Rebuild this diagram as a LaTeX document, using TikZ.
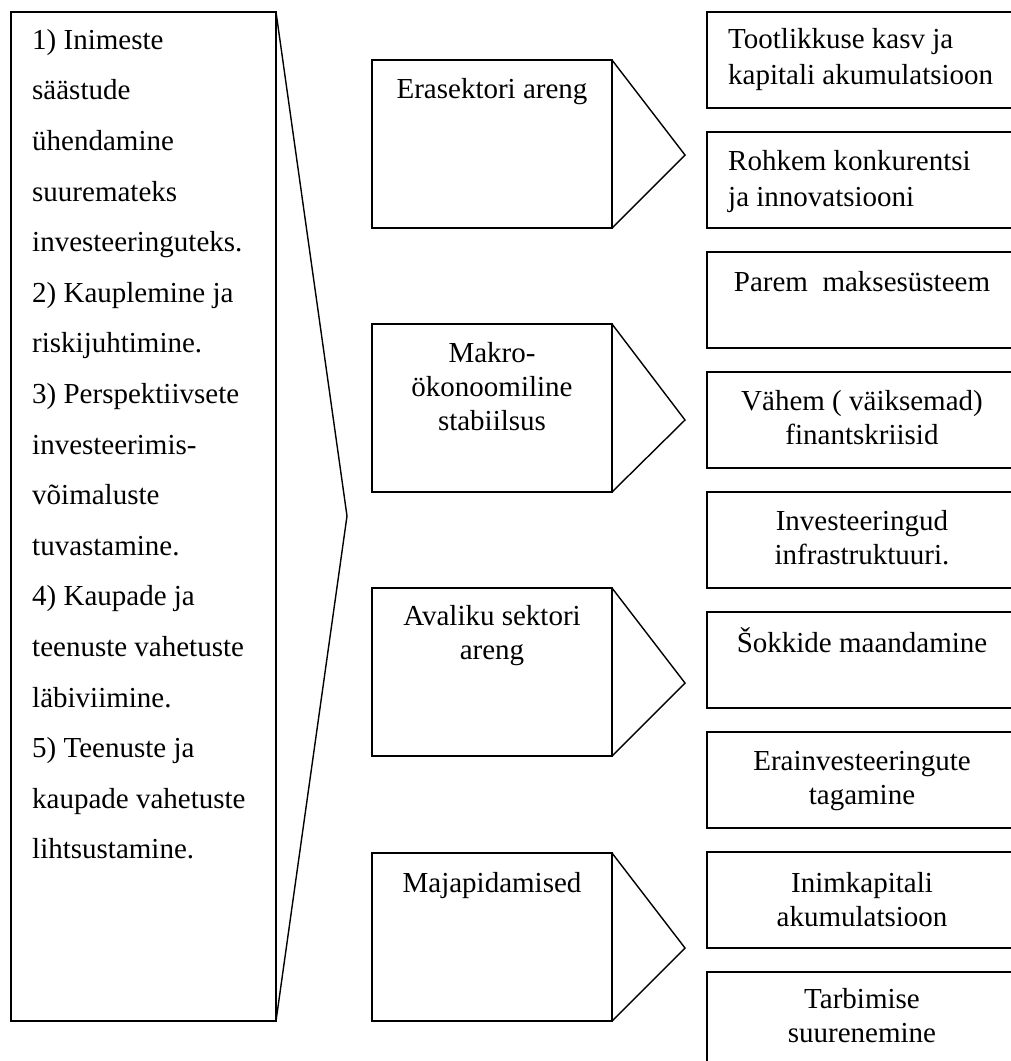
\documentclass[tikz,border=0pt]{standalone}
\usepackage{fontspec}
\setmainfont{Liberation Serif}
\begin{document}
\begin{tikzpicture}[x=1pt,y=-1pt,
  frame/.style={draw, line width=1.4pt, inner sep=0pt, anchor=north west, outer sep=0pt},
  tip/.style={line width=1.4pt, line join=miter},
  lefttxt/.style={inner sep=0pt, anchor=north west, align=left, font=\fontsize{29}{50.6}\selectfont},
  ctxt/.style={inner sep=0pt, anchor=north, align=center, font=\fontsize{29}{34}\selectfont},
  ltxt/.style={inner sep=0pt, anchor=north west, align=left, font=\fontsize{29}{36}\selectfont}]
\useasboundingbox (0,0) rectangle (1011,1061);
\clip (0,0) rectangle (1011,1061);
\def\st{\rule{0pt}{27pt}}
% left big box
\node[frame, minimum width=265pt, minimum height=1009pt] (L) at (11,12) {};
\coordinate (La) at (347,516);
\draw[tip] (L.north east) -- (La) -- (L.south east);
\node[lefttxt] (Lt) at (32,22) {\st 1) Inimeste\\ säästude\\ ühendamine\\ suuremateks\\ investeeringuteks.\\ 2) Kauplemine ja\\ riskijuhtimine.\\ 3) Perspektiivsete\\ investeerimis-\\ võimaluste\\ tuvastamine.\\ 4) Kaupade ja\\ teenuste vahetuste\\ läbiviimine.\\ 5) Teenuste ja\\ kaupade vahetuste\\ lihtsustamine.};
% middle boxes
\foreach \n/\t/\a in {m1/60/155, m2/324/420, m3/588/683, m4/853/948}{
  \node[frame, minimum width=240pt, minimum height=168pt] (\n) at (372,\t) {};
  \coordinate (\n a) at (685,\a);
  \draw[tip] (\n.north east) -- (\n a) -- (\n.south east);
}
\node[ctxt] (m1t) at (492,71) {\st Erasektori areng};
\node[ctxt] (m2t) at (492,335) {\st Makro-\\ ökonoomiline\\ stabiilsus};
\node[ctxt] (m3t) at (492,598) {\st Avaliku sektori\\ areng};
\node[ctxt] (m4t) at (492,865) {\st Majapidamised};
% right boxes
\foreach \n/\t in {r1/12, r2/132, r3/252, r4/372, r5/492, r6/612, r7/732, r8/852, r9/972}{
  \node[frame, minimum width=307pt, minimum height=96pt] (\n) at (707,\t) {};
}
\node[ltxt] (r1t) at (728,21) {\st Tootlikkuse kasv ja\\ kapitali akumulatsioon};
\node[ltxt] (r2t) at (728,143) {\st Rohkem konkurentsi\\ ja innovatsiooni};
\node[ctxt] (r3t) at (862,264) {\st Parem\ \ maksesüsteem};
\node[ctxt] (r4t) at (862,383) {\st Vähem ( väiksemad)\\ finantskriisid};
\node[ctxt] (r5t) at (862,503) {\st Investeeringud\\ infrastruktuuri.};
\node[ctxt] (r6t) at (862,625) {\st Šokkide maandamine};
\node[ctxt] (r7t) at (862,743) {\st Erainvesteeringute\\ tagamine};
\node[ctxt] (r8t) at (862,865) {\st Inimkapitali\\ akumulatsioon};
\node[ctxt] (r9t) at (862,981) {\st Tarbimise\\ suurenemine};
\end{tikzpicture}
\end{document}
